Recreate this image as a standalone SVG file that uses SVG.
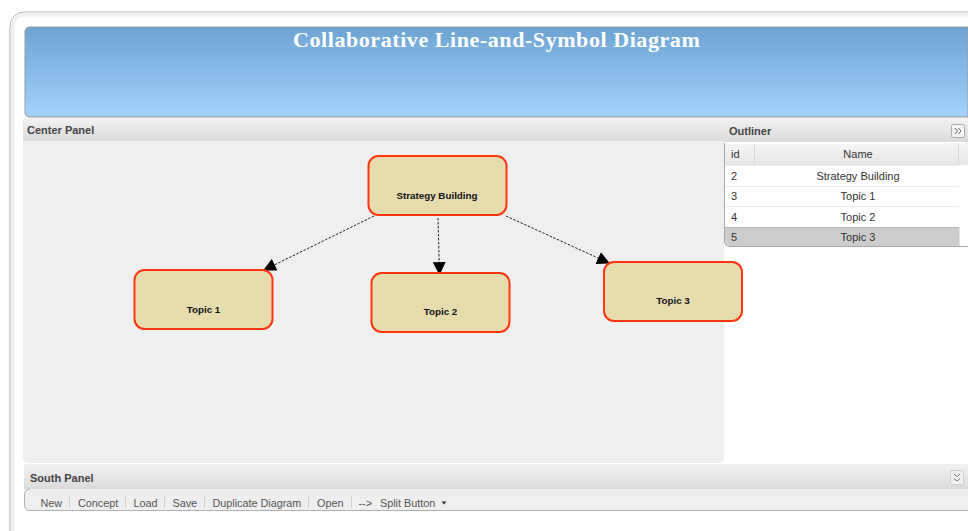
<svg xmlns="http://www.w3.org/2000/svg" width="968" height="531" viewBox="0 0 968 531">
<style>
text{font-family:"Liberation Sans",Arial,sans-serif}
.node{fill:#e6dcae;stroke:#ff3510;stroke-width:2}
.nl{font-size:9.800px;font-weight:bold;fill:#111;text-anchor:middle}
.ph{font-size:11px;font-weight:bold;fill:#444}
.cell{font-size:11px;fill:#333;text-anchor:middle}
.idc{font-size:11px;fill:#333}
.tb{font-size:10.800px;fill:#555}
.sep{stroke:#d0d0d0;stroke-width:1}
.conn{stroke:#222;stroke-width:1;stroke-dasharray:2.500 1.500;fill:none}
</style>
<defs>
<linearGradient id="hd" x1="0" y1="0" x2="0" y2="1"><stop offset="0" stop-color="#6da3d3"/><stop offset="1" stop-color="#a3d2fd"/></linearGradient>
<linearGradient id="pn" x1="0" y1="0" x2="0" y2="1"><stop offset="0" stop-color="#f2f2f2"/><stop offset="1" stop-color="#dadada"/></linearGradient>
<linearGradient id="gh" x1="0" y1="0" x2="0" y2="1"><stop offset="0" stop-color="#f6f6f6"/><stop offset="1" stop-color="#e6e6e6"/></linearGradient>
<marker id="arr" viewBox="0 0 12 12" refX="11" refY="6" markerWidth="13" markerHeight="13" markerUnits="userSpaceOnUse" orient="auto"><path d="M0 0L12 6L0 12Z" fill="#000"/></marker>
</defs>
<rect width="968" height="531" fill="#fff"/>
<g id="frame">
<path d="M968 12H26Q10 12 10 28V531" fill="none" stroke="#ababab" stroke-width="1"/>
<path d="M968 14.500H26Q12.500 14.500 12.500 28V531" fill="none" stroke="#f0f0f0" stroke-width="4"/>
</g>
<g id="header">
<path d="M968 27H30Q25 27 25 32V112Q25 117 30 117H968Z" fill="url(#hd)" stroke="#9a9a9a" stroke-width="1"/>
<text x="293" y="46.500" font-size="22" font-weight="bold" fill="#fff" letter-spacing="0.570" style="font-family:'Liberation Serif','Times New Roman',serif">Collaborative Line-and-Symbol Diagram</text>
</g>
<g id="center-panel">
<rect x="23" y="118" width="701" height="23" fill="url(#pn)"/>
<path d="M23 141H724V457Q724 463 718 463H29Q23 463 23 457Z" fill="#efefef"/>
<text x="27" y="134" class="ph">Center Panel</text>
</g>
<g id="outliner">
<rect x="724" y="118" width="244" height="24" fill="url(#pn)"/>
<text x="729" y="135" class="ph">Outliner</text>
<rect x="951.500" y="124.500" width="13" height="13" rx="2" fill="#f6f6f6" stroke="#a9a9a9"/>
<path d="M955 128L957.500 131L955 134M958.500 128L961 131L958.500 134" fill="none" stroke="#666" stroke-width="1"/>
<path d="M724 143H968V165H724Z" fill="url(#gh)"/>
<path d="M754.500 144V165M958.500 144V165" stroke="#d9d9d9" fill="none"/>
<path d="M724 165.500H959M724 186.500H959M724 206.500H959" stroke="#ececec" fill="none"/>
<path d="M724.500 143V241Q724.500 246.500 730 246.500H968" fill="none" stroke="#a8a8a8"/>
<path d="M725 227H959.500V246H730Q725 246 725 241Z" fill="#cccccc"/>
<path d="M725 227.500H959" stroke="#aaa" stroke-dasharray="1 1" fill="none"/>
<text x="731" y="158" class="idc">id</text><text x="858" y="158" class="cell">Name</text>
<text x="731" y="180" class="idc">2</text><text x="858" y="180" class="cell">Strategy Building</text>
<text x="731" y="200" class="idc">3</text><text x="858" y="200" class="cell">Topic 1</text>
<text x="731" y="221" class="idc">4</text><text x="858" y="221" class="cell">Topic 2</text>
<text x="731" y="241" class="idc">5</text><text x="858" y="241" class="cell">Topic 3</text>
</g>
<g id="connectors">
<line x1="374" y1="216" x2="264" y2="270" class="conn" marker-end="url(#arr)"/>
<line x1="438" y1="218" x2="439.500" y2="274" class="conn" marker-end="url(#arr)"/>
<line x1="506" y1="216" x2="609" y2="263" class="conn" marker-end="url(#arr)"/>
</g>
<g id="node-strategy"><rect x="368.500" y="156" width="138" height="59" rx="10" class="node"/><text x="437" y="198.500" class="nl">Strategy Building</text></g>
<g id="node-topic1"><rect x="134.500" y="270" width="138" height="59" rx="10" class="node"/><text x="203.500" y="312.500" class="nl">Topic 1</text></g>
<g id="node-topic2"><rect x="371.500" y="273" width="138" height="59" rx="10" class="node"/><text x="440.500" y="315" class="nl">Topic 2</text></g>
<g id="node-topic3"><rect x="604" y="262" width="138" height="59" rx="10" class="node"/><text x="673" y="304" class="nl">Topic 3</text></g>
<g id="south-panel">
<rect x="24" y="464" width="944" height="25" fill="url(#pn)"/>
<text x="30" y="482" class="ph">South Panel</text>
<rect x="950.500" y="470.500" width="13" height="14" rx="2" fill="#f0f0f0" stroke="#cfcfcf"/>
<path d="M954 474L957 476.500L960 474M954 478.500L957 481L960 478.500" fill="none" stroke="#777"/>
<path d="M968 489H24.500V505Q24.500 510.500 30 510.500H968Z" fill="#eeeeee"/>
<path d="M30 489Q24.500 489 24.500 495V505Q24.500 510.500 30 510.500H968" fill="none" stroke="#b0b0b0"/>
<text x="40.500" y="506.500" class="tb">New</text><line x1="69.500" y1="496" x2="69.500" y2="508" class="sep"/>
<text x="78" y="506.500" class="tb">Concept</text><line x1="125.500" y1="496" x2="125.500" y2="508" class="sep"/>
<text x="133.500" y="506.500" class="tb">Load</text><line x1="164.500" y1="496" x2="164.500" y2="508" class="sep"/>
<text x="172.500" y="506.500" class="tb">Save</text><line x1="204.500" y1="496" x2="204.500" y2="508" class="sep"/>
<text x="212.500" y="506.500" class="tb">Duplicate Diagram</text><line x1="308.500" y1="496" x2="308.500" y2="508" class="sep"/>
<text x="317" y="506.500" class="tb">Open</text><line x1="351.500" y1="496" x2="351.500" y2="508" class="sep"/>
<text x="358.500" y="506.500" class="tb">--&gt;</text>
<text x="380" y="506.500" class="tb">Split Button</text>
<path d="M441.500 501.500H446.500L444 504.500Z" fill="#333"/>
</g>
</svg>
